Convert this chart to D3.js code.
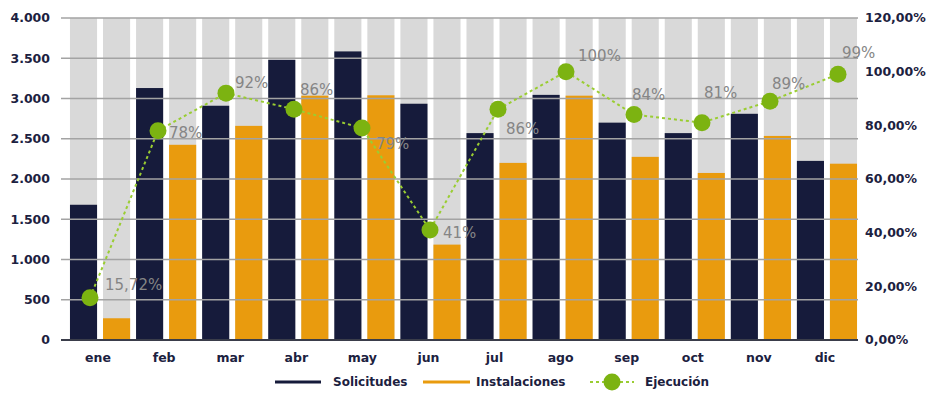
<!DOCTYPE html>
<html>
<head>
<meta charset="utf-8">
<script src="https://cdn.jsdelivr.net/npm/d3@7"></script>
<style>
    body { margin: 0; background: #fff; }
    svg { display: block; font-family: "DejaVu Sans", sans-serif; }
</style>
</head>
<body>
<div id="chart"></div>
<script>
const months = ["ene", "feb", "mar", "abr", "may", "jun", "jul", "ago", "sep", "oct", "nov", "dic"];
const solicitudes = [1680, 3130, 2910, 3480, 3585, 2935, 2570, 3045, 2700, 2570, 2810, 2225];
const instalaciones = [270, 2425, 2660, 3035, 3040, 1185, 2200, 3035, 2275, 2075, 2535, 2190];
const ejecucion = [15.72, 78, 92, 86, 79, 41, 86, 100, 84, 81, 89, 99];
const ejecucionLabels = ["15,72%", "78%", "92%", "86%", "79%", "41%", "86%", "100%", "84%", "81%", "89%", "99%"];
const leftTicks = [0, 500, 1000, 1500, 2000, 2500, 3000, 3500, 4000];
const rightTicks = [0, 20, 40, 60, 80, 100, 120];
const seriesNames = ["Solicitudes", "Instalaciones"];

// label offsets from each point (placement only)
const labelOffsets = [[15, -8], [11, 7], [9, -5], [6, -14], [14, 21], [13, 8], [8, 25], [12, -11], [-2, -15], [2, -25], [2, -12], [4, -16]];

const colors = {navy: "#161b3b", orange: "#e99b0e", bg: "#d9d9d9", grid: "#a3a3a3", line: "#9acd32", dot: "#7cb311", label: "#858585", axis: "#1c2140"};

const W = 930, H = 393;
const plot = {left: 61, right: 858, top: 18, bottom: 340};

const svg = d3.select("#chart").append("svg")
    .attr("width", W)
    .attr("height", H);

const y = d3.scaleLinear().domain([0, 4000]).range([plot.bottom, plot.top]);
const y2 = d3.scaleLinear().domain([0, 120]).range([plot.bottom, plot.top]);

const x = d3.scaleBand().domain(months).range([plot.left + 6, plot.right + 2]).paddingInner(0).paddingOuter(0);
const xs = d3.scaleBand().domain(seriesNames).range([0, x.bandwidth()]).paddingInner(0.18).paddingOuter(0.09);
const xp = d3.scalePoint().domain(months).range([plot.left + 29, plot.right - 20]);

const rows = months.map((m, i) => ({month: m, Solicitudes: solicitudes[i], Instalaciones: instalaciones[i]}));

// grey background columns
const bg = svg.append("g");
rows.forEach(r => {
    seriesNames.forEach(s => {
        bg.append("rect")
            .attr("x", x(r.month) + xs(s))
            .attr("y", plot.top)
            .attr("width", xs.bandwidth())
            .attr("height", plot.bottom - plot.top)
            .attr("fill", colors.bg);
    });
});

// bars
const bars = svg.append("g");
rows.forEach(r => {
    seriesNames.forEach(s => {
        bars.append("rect")
            .attr("x", x(r.month) + xs(s))
            .attr("y", y(r[s]))
            .attr("width", xs.bandwidth())
            .attr("height", plot.bottom - y(r[s]))
            .attr("fill", s == "Solicitudes" ? colors.navy : colors.orange);
    });
});

// grid lines drawn over the bars
svg.append("g").selectAll("line")
    .data(leftTicks.filter(d => d > 0))
    .join("line")
    .attr("x1", plot.left)
    .attr("x2", plot.right)
    .attr("y1", d => y(d))
    .attr("y2", d => y(d))
    .attr("stroke", colors.grid)
    .attr("stroke-width", 1.5);

svg.append("line")
    .attr("x1", plot.left)
    .attr("x2", plot.right)
    .attr("y1", y(0))
    .attr("y2", y(0))
    .attr("stroke", "#3a3d4a")
    .attr("stroke-width", 2);

// left axis
svg.append("g").selectAll("text")
    .data(leftTicks)
    .join("text")
    .attr("x", 50)
    .attr("y", d => y(d))
    .attr("dy", "0.35em")
    .attr("text-anchor", "end")
    .attr("font-size", 12.5)
    .attr("font-weight", "bold")
    .attr("fill", colors.axis)
    .text(d => d3.format(",")(d).replace(/,/g, "."));

// right axis
svg.append("g").selectAll("text")
    .data(rightTicks)
    .join("text")
    .attr("x", 865)
    .attr("y", d => y2(d))
    .attr("dy", "0.35em")
    .attr("font-size", 12.5)
    .attr("font-weight", "bold")
    .attr("fill", colors.axis)
    .text(d => d3.format(".2f")(d).replace(".", ",") + "%");

// month labels
svg.append("g").selectAll("text")
    .data(months)
    .join("text")
    .attr("x", d => x(d) + x.bandwidth() / 2 - 2)
    .attr("y", 358)
    .attr("dy", "0.35em")
    .attr("text-anchor", "middle")
    .attr("font-size", 12.5)
    .attr("font-weight", "bold")
    .attr("fill", colors.axis)
    .text(d => d);

// ejecucion line
const line = d3.line()
    .x((d, i) => xp(months[i]))
    .y(d => y2(d));

svg.append("path")
    .datum(ejecucion)
    .attr("d", line)
    .attr("fill", "none")
    .attr("stroke", colors.line)
    .attr("stroke-width", 2)
    .attr("stroke-dasharray", "3,3");

svg.append("g").selectAll("circle")
    .data(ejecucion)
    .join("circle")
    .attr("cx", (d, i) => xp(months[i]))
    .attr("cy", d => y2(d))
    .attr("r", 8.5)
    .attr("fill", colors.dot);

svg.append("g").selectAll("text")
    .data(ejecucion)
    .join("text")
    .attr("x", (d, i) => xp(months[i]) + labelOffsets[i][0])
    .attr("y", (d, i) => y2(d) + labelOffsets[i][1])
    .attr("font-size", 15)
    .attr("fill", colors.label)
    .text((d, i) => ejecucionLabels[i]);

// legend
const legend = svg.append("g");
const ly = 382;
legend.append("line").attr("x1", 275).attr("x2", 321).attr("y1", ly).attr("y2", ly)
    .attr("stroke", colors.navy).attr("stroke-width", 3);
legend.append("text").attr("x", 333).attr("y", ly).attr("dy", "0.35em")
    .attr("font-size", 12).attr("font-weight", "bold").attr("fill", colors.axis).text("Solicitudes");
legend.append("line").attr("x1", 423).attr("x2", 470).attr("y1", ly).attr("y2", ly)
    .attr("stroke", colors.orange).attr("stroke-width", 3);
legend.append("text").attr("x", 476).attr("y", ly).attr("dy", "0.35em")
    .attr("font-size", 12).attr("font-weight", "bold").attr("fill", colors.axis).text("Instalaciones");
legend.append("line").attr("x1", 590).attr("x2", 634).attr("y1", ly).attr("y2", ly)
    .attr("stroke", colors.line).attr("stroke-width", 2).attr("stroke-dasharray", "3,3");
legend.append("circle").attr("cx", 612).attr("cy", ly).attr("r", 8.5).attr("fill", colors.dot);
legend.append("text").attr("x", 645).attr("y", ly).attr("dy", "0.35em")
    .attr("font-size", 12).attr("font-weight", "bold").attr("fill", colors.axis).text("Ejecución");
</script>
</body>
</html>
